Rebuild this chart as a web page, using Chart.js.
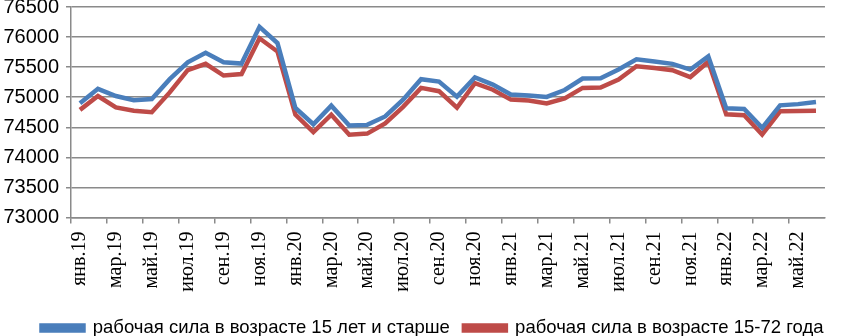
<!DOCTYPE html>
<html lang="ru">
<head>
  <meta charset="utf-8" />
  <title>Рабочая сила</title>
  <script src="https://cdn.jsdelivr.net/npm/chart.js"></script>
  <style>
    body { margin: 0; background: #fff; }
    #wrap { width: 848px; height: 336px; position: relative; }
  </style>
</head>
<body>
  <div id="wrap"><canvas id="chart"></canvas></div>
  <script>
    const months = [
      'янв.19', 'фев.19', 'мар.19', 'апр.19', 'май.19', 'июн.19', 'июл.19', 'авг.19', 'сен.19', 'окт.19', 'ноя.19', 'дек.19',
      'янв.20', 'фев.20', 'мар.20', 'апр.20', 'май.20', 'июн.20', 'июл.20', 'авг.20', 'сен.20', 'окт.20', 'ноя.20', 'дек.20',
      'янв.21', 'фев.21', 'мар.21', 'апр.21', 'май.21', 'июн.21', 'июл.21', 'авг.21', 'сен.21', 'окт.21', 'ноя.21', 'дек.21',
      'янв.22', 'фев.22', 'мар.22', 'апр.22', 'май.22', 'июн.22'
    ];

    // рабочая сила в возрасте 15 лет и старше, тыс. чел.
    const labor15plus = [
      74900, 75140, 75020, 74950, 74970, 75300, 75580, 75740, 75580, 75560, 76170, 75900,
      74820, 74550, 74860, 74530, 74540, 74680, 74960, 75300, 75260, 75010, 75330, 75210,
      75045, 75030, 75005, 75120, 75310, 75315, 75460, 75630, 75595, 75555, 75460, 75680,
      74815, 74805, 74490, 74865, 74885, 74920
    ];

    // рабочая сила в возрасте 15-72 года, тыс. чел.
    const labor15to72 = [
      74790, 75020, 74830, 74775, 74750, 75080, 75450, 75555, 75360, 75385, 75980, 75760,
      74710, 74420, 74710, 74375, 74395, 74565, 74840, 75155, 75100, 74825, 75235, 75125,
      74960, 74945, 74895, 74980, 75155, 75160, 75295, 75515, 75485, 75450, 75335, 75590,
      74715, 74700, 74380, 74765, 74770, 74775
    ];

    const yMin = 73000;
    const yMax = 76500;
    const yStep = 500;

    const gridGray = '#8a8a8a';
    const legendFont = 18.5;
    const legendPad = 14;

    // легенда ниже и чуть правее, как в исходном графике
    const legendShift = {
      id: 'legendShift',
      afterLayout(chart) {
        const lg = chart.legend;
        const dy = 328 - (lg.top + legendPad + legendFont / 2);
        lg.top += dy;
        lg.bottom += dy;
        lg.left += 9;
        lg.right += 9;
      }
    };

    new Chart(document.getElementById('chart'), {
      type: 'line',
      data: {
        labels: months,
        datasets: [
          {
            label: 'рабочая сила в возрасте 15 лет и старше',
            data: labor15plus,
            borderColor: '#4a7ebb',
            backgroundColor: '#4a7ebb',
            borderWidth: 4.5,
            pointRadius: 0,
            tension: 0
          },
          {
            label: 'рабочая сила в возрасте 15-72 года',
            data: labor15to72,
            borderColor: '#be4b48',
            backgroundColor: '#be4b48',
            borderWidth: 4.5,
            pointRadius: 0,
            tension: 0
          }
        ]
      },
      plugins: [legendShift],
      options: {
        responsive: true,
        maintainAspectRatio: false,
        animation: false,
        layout: { padding: { top: 1, right: 1, left: 0, bottom: 0 } },
        plugins: {
          tooltip: { enabled: false },
          legend: {
            position: 'bottom',
            labels: {
              color: '#000',
              font: { family: 'Liberation Sans, Arial, sans-serif', size: legendFont },
              boxWidth: 42,
              boxHeight: 5,
              padding: legendPad
            }
          }
        },
        scales: {
          x: {
            offset: true,
            grid: {
              offset: true,
              drawOnChartArea: false,
              tickLength: 6,
              tickColor: ctx => (ctx.index % 2 === 0 ? gridGray : 'rgba(0,0,0,0)'),
              lineWidth: 1.5
            },
            border: { color: gridGray, width: 1.5 },
            ticks: {
              autoSkip: false,
              minRotation: 90,
              maxRotation: 90,
              color: '#000',
              padding: 8,
              font: { family: 'Liberation Serif, Times New Roman, serif', size: 20 },
              callback: function (val, i) { return i % 2 === 0 ? this.getLabelForValue(val) : ''; }
            },
            afterFit: scale => { scale.height = 76; }
          },
          y: {
            min: yMin,
            max: yMax,
            grid: {
              color: gridGray,
              lineWidth: 1.5,
              tickLength: 5
            },
            border: { color: gridGray, width: 1.5 },
            ticks: {
              stepSize: yStep,
              color: '#000',
              padding: 7,
              font: { family: 'Liberation Sans, Arial, sans-serif', size: 20, lineHeight: 0 },
              callback: v => String(v)
            },
            afterFit: scale => { scale.width = 71; }
          }
        }
      }
    });
  </script>
</body>
</html>
